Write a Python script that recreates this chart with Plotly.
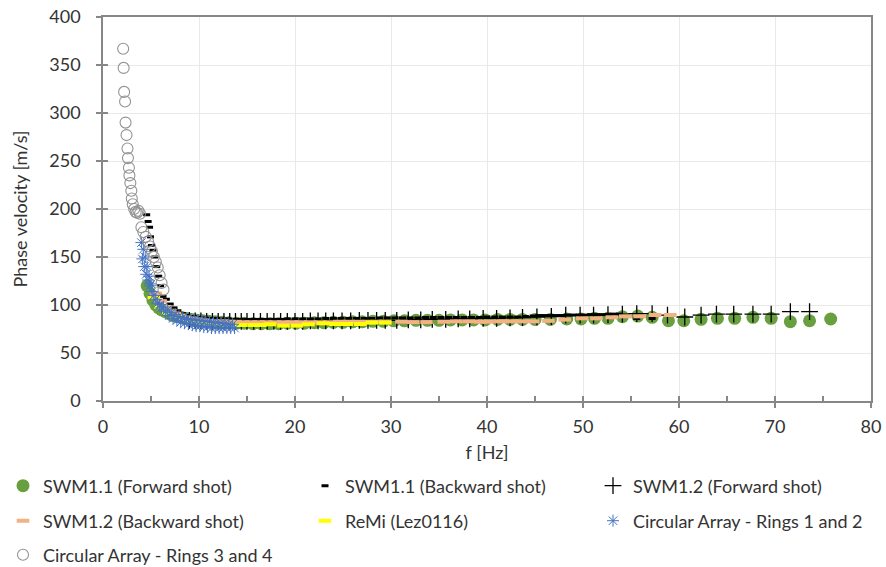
import plotly.graph_objects as go

# ---- data ----
f_swm11_fwd = [4.6, 4.9, 5.2, 5.5, 5.8, 6.1, 6.5, 6.9, 7.3, 7.7, 8.2, 8.7, 9.2, 9.8,
               10.4, 11.0, 11.7, 12.4, 13.1, 13.9, 14.7, 15.6, 16.5, 17.4, 18.3, 19.2,
               20.1, 21.0, 22.0, 23.0, 24.0, 25.0, 26.0, 27.0,
               28.1, 29.2, 30.3, 31.4, 32.6, 33.8, 35.0, 36.2, 37.4, 38.6, 39.8, 41.1, 42.4, 43.7, 45.0, 46.6,
               48.3, 49.8, 51.2, 52.6, 54.1, 55.7, 57.2, 58.9, 60.5, 62.3, 64.0, 65.8, 67.7, 69.6, 71.6, 73.6, 75.8]
v_swm11_fwd = [120, 112, 105, 100, 97, 95, 93, 91, 89, 88, 87, 86, 85, 84,
               83.5, 83, 82.5, 82, 81.5, 81, 81, 80.5, 80.5, 80.5, 80.5, 81,
               81, 81, 81.5, 81.5, 82, 82, 82.5, 82.5,
               83, 83, 83.5, 83.5, 84, 84, 84, 84.5, 84.5, 84.5, 84.5, 85, 85, 85, 85, 85,
               85.4, 85.4, 86.1, 86.1, 87.8, 88.5, 87.2, 83.6, 83.6, 85.1, 86.1, 86.1, 87.2, 86.1, 82.6, 83.6, 85.4]

f_swm11_bwd = [4.55, 4.7, 4.85, 4.95, 5.05, 5.2, 5.4, 5.6, 5.8, 6.0,
               6.25, 6.6, 7.0, 7.4, 7.8, 8.3, 8.8, 9.4, 10.0,
               10.6, 11.2, 11.8, 12.4, 13.0, 13.6, 14.3, 15.0, 15.7, 16.4, 17.1, 17.8, 18.5, 19.2,
               20.0, 20.8, 21.6, 22.4, 23.2, 24.0, 24.8, 25.6, 26.4, 27.2, 28.0, 28.8, 29.6, 30.4, 31.2, 32.0,
               32.8, 33.6, 34.4, 35.2, 36.0, 36.8, 37.6, 38.4, 39.2, 40.0, 40.8, 41.6, 42.4, 43.2, 44.0, 44.8,
               45.4, 46.0, 46.6, 47.2, 47.8, 48.4, 49.0, 49.6, 50.2, 50.8, 51.4, 52.0, 52.6, 53.2, 53.8,
               55.6, 57.2]
v_swm11_bwd = [194, 187, 181, 171, 162, 157, 150, 140, 130, 120,
               109, 106, 101, 97, 94, 91, 89, 88, 87,
               86.5, 86, 86, 85.5, 85.5, 85, 85, 85, 85, 85, 85, 85, 85, 85.5,
               85.5, 85.5, 85.5, 85.5, 86, 86, 86, 86, 86, 86, 86, 86.5, 86.5, 86.5, 86.5, 86.5,
               86.5, 87, 87, 87, 87, 87, 87, 87, 87, 87.5, 87.5, 87.5, 87.5, 87.5, 88, 88.5,
               89, 89, 89, 89, 89, 89.5, 89.5, 89.5, 89.5, 90, 90, 90, 90, 90.5, 90.5,
               86, 86]

f_swm12_fwd = [9.0, 9.6, 10.2, 10.8, 11.4, 12.0, 12.6, 13.2, 13.8, 14.4, 15.0,
               15.7, 16.4, 17.1, 17.8, 18.5, 19.2, 20.0, 20.8, 21.6, 22.4, 23.2, 24.0,
               24.9, 25.8, 26.7, 27.6, 28.5,
               29.4, 30.6, 31.8, 33.1, 34.3, 35.7, 37.0, 38.2, 39.6, 41.0, 42.4, 43.7, 45.2, 46.7,
               48.2, 49.7, 51.1, 52.6, 54.1, 55.6, 57.2, 58.8, 60.6, 62.3, 63.9, 65.7, 67.7, 69.6, 71.6, 73.6]
v_swm12_fwd = [84, 83.5, 83.5, 83, 83, 83, 83, 83, 83, 83, 83,
               83, 83, 83, 83, 83, 83, 83, 83, 83.5, 83.5, 83.5, 83.5,
               83.5, 83.5, 84, 84, 84,
               84, 84, 84.5, 84.5, 85, 85, 85.5, 85.5, 86, 86, 86.5, 87, 87.5, 88,
               89.5, 89.5, 89.5, 90, 90.5, 91, 91, 89.5, 87.5, 89.5, 90.5, 90.5, 90.5, 90.5, 93, 93]

f_swm12_bwd = [5.5, 6.0, 6.5, 7.0, 7.5, 8.0, 8.6, 9.2, 9.8, 10.4, 11.0,
               11.7, 12.4, 13.1, 13.8, 14.6, 15.4, 16.2, 17.0, 17.9, 18.8, 19.7, 20.6,
               21.6, 22.6, 23.6, 24.6, 25.6, 26.6, 27.6, 28.5,
               29.4, 31.1, 32.3, 33.7, 35.5, 36.8, 38.1, 39.3, 40.1, 41.4, 42.6, 43.6, 44.8, 46.4,
               48.1, 49.9, 51.4, 53.0, 54.4, 55.9, 57.5, 59.1]
v_swm12_bwd = [112, 104, 98, 94, 91, 89, 87, 86, 85, 84, 83.5,
               83, 83, 82.5, 82.5, 82, 82, 82, 82, 82, 82, 82, 82,
               82, 82, 82, 82.5, 82.5, 82.5, 82.5, 82.5,
               82.6, 82.6, 82.2, 82.2, 82.6, 83, 83, 82.6, 82.6, 83, 83, 83, 83, 83.5,
               84.8, 86.1, 86.1, 87.2, 88.2, 88.2, 89.6, 89.6]

f_remi = [5.3, 6.0, 6.8, 7.6, 8.5, 9.4, 10.3, 11.2, 12.1, 13.0, 14.4, 15.7, 16.4, 17.4,
          18.8, 20.2, 21.4, 22.9, 24.2, 25.4, 26.8, 28.0, 29.4]
v_remi = [108, 98, 92, 88, 85, 83, 81.5, 80.5, 80, 79.5, 79.2, 79.2, 79.2, 79.9,
          78.5, 78.5, 79.9, 80.9, 80.2, 80.2, 80.2, 81.6, 81.6]

f_ring12 = [4.0, 4.1, 4.2, 4.3, 4.4, 4.5, 4.6, 4.7, 4.8, 4.9, 5.0, 5.1, 5.3, 5.5, 5.7, 5.9,
            6.1, 6.3, 6.5, 6.7, 6.9, 7.1, 7.3, 7.5, 7.7, 7.9, 8.1, 8.3, 8.5, 8.7, 8.9, 9.1,
            9.3, 9.5, 9.7, 9.9, 10.1, 10.3, 10.5, 10.7, 10.9, 11.1, 11.3, 11.5, 11.7, 11.9,
            12.1, 12.3, 12.5, 12.7, 12.9, 13.1, 13.3, 13.5, 13.7]
v_ring12 = [165, 148, 158, 140, 150, 132, 140, 126, 130, 120,
            122, 114, 110, 106, 102, 100, 97, 98, 93, 95,
            89, 92, 86, 90, 84, 88, 82, 87, 81, 86,
            80, 85, 79, 85, 78, 84, 78, 84, 77, 83,
            77, 83, 76, 82, 76, 82, 76, 81, 76, 81,
            76, 80, 76, 80, 76]

f_ring34 = [2.1, 2.15, 2.2, 2.3, 2.35, 2.45, 2.55, 2.6, 2.7, 2.75, 2.85, 2.95, 3.0, 3.1,
            3.25, 3.4, 3.55, 3.7, 3.85, 4.0, 4.2, 4.45, 4.7, 4.9, 5.1, 5.3, 5.5, 5.7, 5.9, 6.1, 6.3]
v_ring34 = [367, 347, 322, 312, 290, 277, 263, 253, 243, 235, 227, 219, 211, 205,
            200, 197, 196, 198, 195, 181, 176, 171, 166, 161, 156, 150, 145, 139, 131, 123, 116]

names = ["SWM1.1 (Forward shot)", "SWM1.1 (Backward shot)", "SWM1.2 (Forward shot)",
         "SWM1.2 (Backward shot)", "ReMi (Lez0116)", "Circular Array - Rings 1 and 2",
         "Circular Array - Rings 3 and 4"]

x_ticks = [0, 10, 20, 30, 40, 50, 60, 70, 80]
y_ticks = [0, 50, 100, 150, 200, 250, 300, 350, 400]

FONT = "Lato"
TXT = "#333333"
AX = "#878787"

L0, T0, PW, PH = 103, 17, 768, 384
def px2x(p):
    return (p - L0) / PW
def py2y(p):
    return (T0 + PH - p) / PH

# legend slot (left pixel of item, centre row pixel) for each series
leg_pos = [(3, 486), (305, 486), (593, 486),
           (3, 521), (305, 521), (593, 521),
           (3, 555)]
leg_ids = ["legend", "legend2", "legend3", "legend4", "legend5", "legend6", "legend7"]

fig = go.Figure()
fig.add_trace(go.Scatter(x=f_swm11_fwd, y=v_swm11_fwd, mode="markers", name=names[0], showlegend=True,
                         marker=dict(symbol="circle", size=13, color="#68a040"), legend=leg_ids[0]))
fig.add_trace(go.Scatter(x=f_swm11_bwd, y=v_swm11_bwd, mode="markers", name=names[1],
                         marker=dict(symbol="line-ew", size=5, color="black",
                                     line=dict(width=3, color="black")), legend=leg_ids[1]))
fig.add_trace(go.Scatter(x=f_swm12_fwd, y=v_swm12_fwd, mode="markers", name=names[2],
                         marker=dict(symbol="cross-thin", size=12, color="black",
                                     line=dict(width=1.3, color="black")), legend=leg_ids[2]))
fig.add_trace(go.Scatter(x=f_swm12_bwd, y=v_swm12_bwd, mode="markers", name=names[3],
                         marker=dict(symbol="line-ew", size=9, color="#F4B183",
                                     line=dict(width=4, color="#F4B183")), legend=leg_ids[3]))
fig.add_trace(go.Scatter(x=f_remi, y=v_remi, mode="markers", name=names[4],
                         marker=dict(symbol="line-ew", size=9, color="#FFFF00",
                                     line=dict(width=4, color="#FFFF00")), legend=leg_ids[4]))
fig.add_trace(go.Scatter(x=f_ring12, y=v_ring12, mode="markers", name=names[5],
                         marker=dict(symbol="asterisk-open", size=10, color="#4472C4",
                                     line=dict(width=1, color="#4472C4")), legend=leg_ids[5]))
fig.add_trace(go.Scatter(x=f_ring34, y=v_ring34, mode="markers", name=names[6],
                         marker=dict(symbol="circle-open", size=11, color="#939393",
                                     line=dict(width=1.1, color="#939393")), legend=leg_ids[6]))
# empty trace on the overlay axes (inside ticks)
fig.add_trace(go.Scatter(x=[], y=[], xaxis="x2", yaxis="y2", showlegend=False, hoverinfo="skip"))

legends = {}
for lid, (lx, ly) in zip(leg_ids, leg_pos):
    legends[lid] = dict(orientation="h", xanchor="left", yanchor="middle",
                        x=px2x(lx), y=py2y(ly),
                        font=dict(family=FONT, size=18, color=TXT),
                        bgcolor="rgba(0,0,0,0)", itemclick=False, itemdoubleclick=False)

fig.update_layout(
    width=886, height=567,
    showlegend=True,
    margin=dict(l=L0, r=886 - L0 - PW, t=T0, b=567 - T0 - PH, autoexpand=False),
    paper_bgcolor="white", plot_bgcolor="white",
    font=dict(family=FONT, size=18, color=TXT),
    xaxis=dict(range=[0, 80], tickvals=x_ticks, ticks="outside", ticklen=5, tickwidth=1.5,
               tickcolor=AX, showline=True, linecolor=AX, linewidth=1.5, mirror=True,
               showgrid=True, gridcolor="#e9e9e9", gridwidth=1, zeroline=False,
               ticklabelstandoff=4, tickfont=dict(family=FONT, size=18, color=TXT),
               title=dict(text="f [Hz]", font=dict(family=FONT, size=18, color=TXT), standoff=10)),
    yaxis=dict(range=[0, 400], tickvals=y_ticks, ticks="outside", ticklen=5, tickwidth=1.5,
               tickcolor=AX, showline=True, linecolor=AX, linewidth=1.5, mirror=True,
               showgrid=True, gridcolor="#e9e9e9", gridwidth=1, zeroline=False,
               ticklabelstandoff=12, tickfont=dict(family=FONT, size=18, color=TXT),
               title=dict(text="Phase velocity [m/s]", font=dict(family=FONT, size=18, color=TXT), standoff=17)),
    xaxis2=dict(range=[0, 80], dtick=5, tick0=0, ticks="inside", ticklen=5, tickwidth=1.5,
                tickcolor=AX, showticklabels=False, showgrid=False, showline=False,
                zeroline=False, overlaying="x", anchor="y2"),
    yaxis2=dict(range=[0, 400], dtick=50, tick0=0, ticks="inside", ticklen=5, tickwidth=1.5,
                tickcolor=AX, showticklabels=False, showgrid=False, showline=False,
                zeroline=False, overlaying="y", anchor="x2"),
    **legends,
)

fig.write_html("out.html")
